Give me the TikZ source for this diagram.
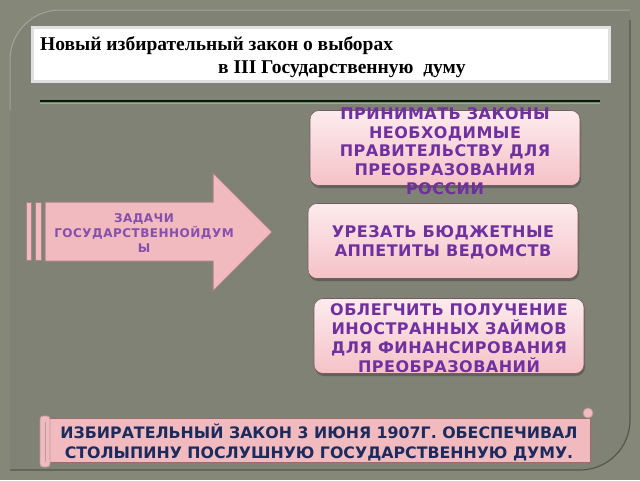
\documentclass[tikz,border=0pt]{standalone}
\usepackage{fontspec}
\setmainfont{Liberation Serif}
\newfontfamily\dejavu{DejaVu Sans}
\newfontfamily\dejavuwide[LetterSpace=4]{DejaVu Sans}
\newfontfamily\dejavugoal[LetterSpace=3]{DejaVu Sans}
\usetikzlibrary{shapes}
\usetikzlibrary{positioning}
\usetikzlibrary{shadows}
\definecolor{outerbg}{HTML}{858879}
\definecolor{innerbg}{HTML}{7F8275}
\definecolor{rimlight}{HTML}{A3A596}
\definecolor{rimdark}{HTML}{55574B}
\definecolor{rosefill}{HTML}{F1BABE}
\definecolor{roseedge}{HTML}{A88486}
\definecolor{rosetop}{HTML}{FDEBED}
\definecolor{rosebot}{HTML}{F4C2C7}
\definecolor{taskpurple}{HTML}{7030A0}
\definecolor{bannerblue}{HTML}{1C2B5E}
\tikzset{
	goalbox/.style={rectangle, rounded corners=9pt, draw=roseedge!70!black, line width=0.6pt,
			top color=rosetop, bottom color=rosebot, minimum width=270pt, minimum height=75pt,
			drop shadow={shadow xshift=1pt, shadow yshift=-2.5pt, opacity=0.6, fill=black!70}},
	goaltext/.style={align=center, text=taskpurple, font=\dejavugoal\bfseries\fontsize{16}{18.8}\selectfont, inner sep=0pt},
}

\begin{document}
\begin{tikzpicture}[x=1pt, y=-1pt]
				\useasboundingbox (0, 0) rectangle (640, 480);
				\fill[outerbg] (0, 0) rectangle (640, 480);
				% inner panel
				\fill[innerbg] (10, 470) -- (10, 60) arc[start angle=180, end angle=270, radius=50] -- (630, 10) -- (630, 420) arc[start angle=0, end angle=90, radius=50] -- cycle;
				\draw[rimlight, line width=1pt] (10, 110) -- (10, 60) arc[start angle=180, end angle=270, radius=50] -- (630, 10);
				\draw[rimdark, line width=1.2pt] (630, 20) -- (630, 420) arc[start angle=0, end angle=90, radius=50] -- (10, 470);

				% title
				\node[draw=black!12, line width=2.5pt, fill=white, minimum width=577pt, minimum height=54pt, anchor=north west] (title) at (31, 26) {};
				\node[anchor=base west, inner sep=0pt, font=\bfseries\fontsize{19.5}{22}\selectfont] (titleA) at (40, 50) {Новый избирательный закон о выборах};
				\node[anchor=base west, inner sep=0pt, font=\bfseries\fontsize{19.5}{22}\selectfont] (titleB) at (218, 73) {в III Государственную\ \ думу};
				\draw[black!70!green!40!black, line width=1.4pt] (40, 101) -- (600, 101);
				\draw[rimlight, line width=0.8pt] (40, 103) -- (600, 103);

				% tasks arrow
				\fill[rosefill, draw=roseedge, line width=1pt] (26, 202) rectangle (31, 260);
				\fill[rosefill, draw=roseedge, line width=1pt] (35, 202) rectangle (41, 260);
				\fill[rosefill, draw=roseedge, line width=1pt] (45, 202) -- (213, 202) -- (213, 173) -- (272, 232) -- (213, 291) -- (213, 261) -- (45, 261) -- cycle;
				\node[align=center, text=taskpurple!85, inner sep=0pt, font=\dejavuwide\bfseries\fontsize{12}{14.6}\selectfont] (tasks) at (144, 233) {ЗАДАЧИ\\ГОСУДАРСТВЕННОЙДУМ\\Ы};

				% goals
				\node[goalbox] (goalA) at (445, 148) {};
				\node[goaltext] (goalAtext) at (445, 151) {ПРИНИМАТЬ ЗАКОНЫ\\НЕОБХОДИМЫЕ\\ПРАВИТЕЛЬСТВУ ДЛЯ\\ПРЕОБРАЗОВАНИЯ\\РОССИИ};
				\node[goalbox] (goalB) at (443, 241) {};
				\node[goaltext] (goalBtext) at (443, 242) {УРЕЗАТЬ БЮДЖЕТНЫЕ\\АППЕТИТЫ ВЕДОМСТВ};
				\node[goalbox] (goalC) at (449, 336) {};
				\node[goaltext] (goalCtext) at (449, 338) {ОБЛЕГЧИТЬ ПОЛУЧЕНИЕ\\ИНОСТРАННЫХ ЗАЙМОВ\\ДЛЯ ФИНАНСИРОВАНИЯ\\ПРЕОБРАЗОВАНИЙ};

				% scroll banner
				\fill[rosefill, draw=rosefill!80!red!60!black!90, line width=0.8pt] (48, 418) rectangle (590, 462);
				\fill[rosefill, draw=roseedge!80, line width=0.8pt, rounded corners=3pt] (40, 416) rectangle (50, 467);
				\draw[roseedge!80, line width=0.6pt] (45, 422) -- (45, 462);
				\fill[rosefill, draw=roseedge!80, line width=0.8pt] (588, 413) circle[radius=5];
				\node[align=center, text=bannerblue, inner sep=0pt, font=\dejavu\bfseries\fontsize{15.8}{20}\selectfont] (banner) at (319, 442) {ИЗБИРАТЕЛЬНЫЙ ЗАКОН 3 ИЮНЯ 1907Г. ОБЕСПЕЧИВАЛ\\СТОЛЫПИНУ ПОСЛУШНУЮ ГОСУДАРСТВЕННУЮ ДУМУ.};
			\end{tikzpicture}
\end{document}
